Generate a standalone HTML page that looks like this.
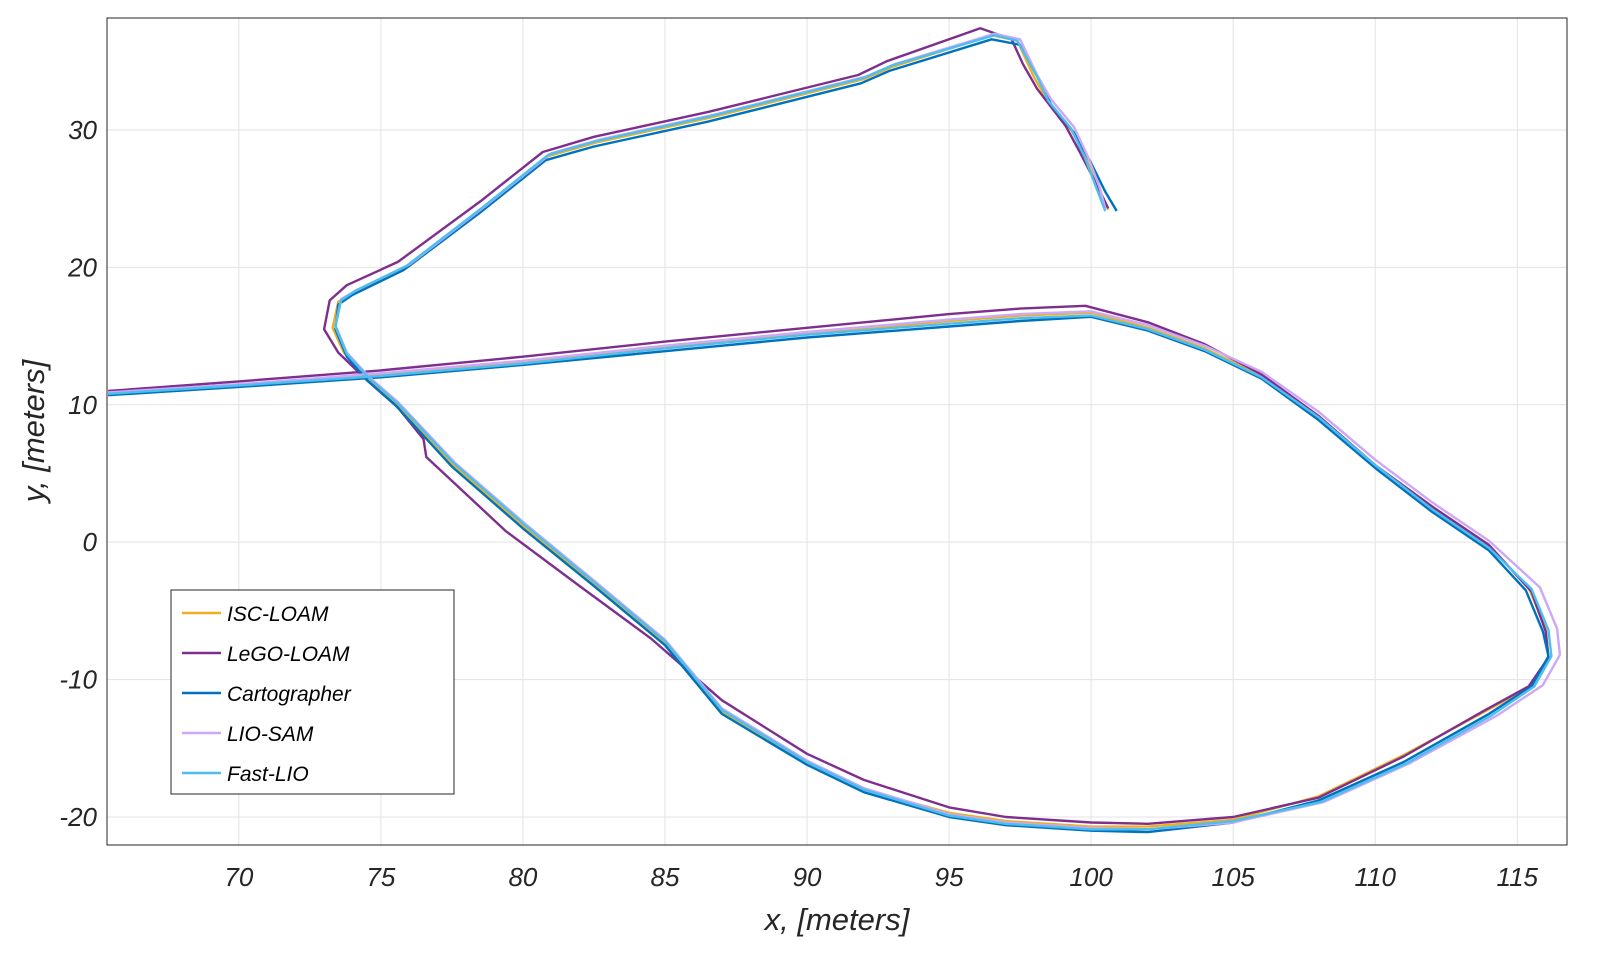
<!DOCTYPE html>
<html><head><meta charset="utf-8"><style>
html,body{margin:0;padding:0;background:#fff;}
svg{display:block;font-family:"Liberation Sans",sans-serif;}
</style></head><body>
<svg id="chart" width="1597" height="958" viewBox="0 0 1597 958" xmlns="http://www.w3.org/2000/svg">
<rect x="0" y="0" width="1597" height="958" fill="#fff"/>
<g id="grid"></g>
<g id="series"></g>
<rect x="107" y="18" width="1460" height="827" fill="none" stroke="#262626" stroke-width="1"/>
<g id="ticks"></g>
<text x="837" y="930" text-anchor="middle" font-size="31" font-style="italic" fill="#262626">x, [meters]</text>
<text transform="translate(44,431) rotate(-90)" text-anchor="middle" font-size="31" font-style="italic" fill="#262626">y, [meters]</text>
<g id="legend">
<rect x="171" y="590" width="283" height="204" fill="#fff" stroke="#262626" stroke-width="1"/>
</g>
</svg>
<script>
const xTicks=[70,75,80,85,90,95,100,105,110,115];
const yTicks=[30,20,10,0,-10,-20];
const seriesNames=["ISC-LOAM","LeGO-LOAM","Cartographer","LIO-SAM","Fast-LIO"];
const seriesColors=["#EDB120","#7E2F8E","#0072BD","#CDA8F8","#4DBEEE"];
const iscLoam=[[65.4,10.8],[70,11.4],[75,12.2],[80,13.1],[85,14.2],[90,15.2],[95,16.1],[97.5,16.5],[100,16.7],[102,15.6],[104,14.1],[106,12.1],[108,9.1],[110,5.6],[112,2.5],[114,-0.3],[115.4,-3.3],[116,-6.3],[116.1,-8.5],[115.4,-10.6],[113.8,-12.4],[111,-15.5],[108,-18.5],[105,-20.2],[102,-20.7],[100,-20.7],[97,-20.3],[95,-19.7],[92,-18],[90,-16],[87,-12.3],[85,-7.3],[82.5,-3],[80,1.2],[77.5,5.7],[75.5,10.2],[74.5,12],[73.7,13.8],[73.3,15.6],[73.5,17.5],[74.1,18.2],[76,20.1],[78.6,24.3],[80.9,28.1],[82.6,29.1],[86.6,30.9],[92,33.7],[93,34.6],[96.5,36.9],[97.4,36.5],[98,33.8],[98.5,32],[99.3,30],[99.9,27.8],[100.3,25.6],[100.6,24.2]];
const legoLoam=[[65.4,11.0],[70,11.7],[75,12.5],[80,13.5],[85,14.6],[90,15.6],[95,16.6],[97.5,17.0],[99.8,17.2],[102,16.0],[104,14.4],[106,12.2],[108,9.2],[110,5.6],[112,2.6],[114,-0.2],[115.5,-3.6],[116,-6.5],[116.1,-8.4],[115.4,-10.5],[113.8,-12.3],[111,-15.6],[108,-18.6],[105,-20],[102,-20.5],[100,-20.4],[97,-20],[95,-19.3],[92,-17.3],[90,-15.4],[87,-11.5],[84.5,-7],[82,-3.2],[79.4,0.8],[76.6,6.2],[76.5,7.5],[75.6,9.8],[74.5,11.8],[73.5,13.8],[73,15.5],[73.2,17.6],[73.8,18.7],[75.6,20.4],[78.5,24.8],[80.7,28.4],[82.5,29.5],[86.5,31.3],[91.8,34],[92.8,35],[96.1,37.4],[97.2,36.6],[97.6,34.8],[98.1,33],[99.1,30.3],[99.6,28.4],[100.2,26],[100.6,24.3]];
const cartographer=[[65.4,10.7],[70,11.3],[75,12.0],[80,12.9],[85,13.9],[90,14.9],[95,15.7],[97.5,16.1],[100,16.4],[102,15.4],[104,13.9],[106,11.9],[108,8.9],[110,5.4],[112,2.2],[114,-0.6],[115.3,-3.5],[115.9,-6.5],[116.1,-8.3],[115.5,-10.5],[114,-12.5],[111,-16],[108,-18.8],[105,-20.4],[102,-21.1],[100,-21],[97,-20.6],[95,-20],[92,-18.2],[90,-16.2],[87,-12.5],[85,-7.5],[82.5,-3.2],[80,1],[77.5,5.5],[75.5,10],[74.5,11.8],[73.8,13.5],[73.4,15.5],[73.5,17.3],[74,18],[75.8,19.8],[78.5,24],[80.8,27.8],[82.5,28.8],[86.5,30.6],[91.9,33.4],[92.9,34.3],[96.5,36.6],[97.5,36.2],[98.2,33.5],[98.6,31.8],[99.4,29.8],[100,27.6],[100.5,25.5],[100.9,24.1]];
const lioSam=[[65.4,10.9],[70,11.5],[75,12.3],[80,13.2],[85,14.3],[90,15.3],[95,16.2],[97.5,16.6],[100,16.8],[102,15.8],[104,14.3],[106,12.4],[108,9.5],[110,6.0],[112,2.9],[114,0.1],[115.8,-3.3],[116.4,-6.3],[116.5,-8.2],[115.9,-10.4],[114.3,-12.6],[111.2,-16.1],[108.2,-18.9],[105,-20.4],[102,-20.9],[100,-20.8],[97,-20.4],[95,-19.8],[92,-17.9],[90,-15.9],[87,-12.1],[85,-7.1],[82.5,-2.8],[80.1,1.3],[77.6,5.8],[75.6,10.2],[74.6,12],[73.8,13.8],[73.4,15.8],[73.6,17.7],[74.2,18.4],[76,20.2],[78.7,24.5],[81,28.3],[82.7,29.3],[86.7,31.1],[92.1,33.9],[93.1,34.8],[96.6,37],[97.5,36.6],[98.1,34],[98.6,32.2],[99.4,30.2],[99.9,28],[100.3,25.8],[100.5,24.3]];
const fastLio=[[65.4,10.8],[70,11.4],[75,12.1],[80,13.0],[85,14.1],[90,15.1],[95,15.9],[97.5,16.3],[100,16.5],[102,15.5],[104,14.0],[106,12.0],[108,9.1],[110,5.6],[112,2.4],[114,-0.4],[115.5,-3.4],[116.1,-6.4],[116.2,-8.3],[115.6,-10.5],[114.1,-12.6],[111.1,-16.1],[108.1,-18.9],[105,-20.3],[102,-20.9],[100,-20.9],[97,-20.5],[95,-19.9],[92,-18],[90,-16],[87,-12.2],[85,-7.2],[82.5,-2.9],[80.1,1.2],[77.6,5.7],[75.6,10.1],[74.6,11.9],[73.8,13.7],[73.4,15.7],[73.6,17.6],[74.1,18.3],[75.9,20.1],[78.6,24.4],[80.9,28.2],[82.6,29.2],[86.6,31],[92,33.8],[93,34.7],[96.6,36.9],[97.4,36.5],[98.1,33.9],[98.5,32.1],[99.3,30.1],[99.8,27.9],[100.2,25.7],[100.5,24.1]];
const allSeries=[iscLoam,legoLoam,cartographer,lioSam,fastLio];
const L=107,R=1567,T=18,B=845,XMIN=65.36,XMAX=116.75,YMIN=-22.04,YMAX=38.15;
function sx(v){return L+(v-XMIN)/(XMAX-XMIN)*(R-L);}
function sy(v){return B-(v-YMIN)/(YMAX-YMIN)*(B-T);}
const NS="http://www.w3.org/2000/svg";
function mk(tag,attrs,parent){const e=document.createElementNS(NS,tag);for(const k in attrs)e.setAttribute(k,attrs[k]);parent.appendChild(e);return e;}
const grid=document.getElementById('grid'),ticks=document.getElementById('ticks');
xTicks.forEach(v=>{
  const l=mk('line',{x1:sx(v),x2:sx(v),y1:T,y2:B,stroke:'#e3e3e3','stroke-width':1},grid);
  
  
  const t=mk('text',{x:sx(v),y:886,'text-anchor':'middle','font-size':26,'font-style':'italic',fill:'#262626'},ticks);
  t.textContent=v;
  
  
});
yTicks.forEach(v=>{
  const l=mk('line',{x1:L,x2:R,y1:sy(v),y2:sy(v),stroke:'#e3e3e3','stroke-width':1},grid);
  
  
  const t=mk('text',{x:97,y:sy(v)+9,'text-anchor':'end','font-size':26,'font-style':'italic',fill:'#262626'},ticks);
  t.textContent=v;
  
  
});
const sg=document.getElementById('series'),lg=document.getElementById('legend');
allSeries.forEach((pts,i)=>{
  const d=pts.map((p,j)=>(j?'L':'M')+sx(p[0]).toFixed(1)+' '+sy(p[1]).toFixed(1)).join(' ');
  const p=mk('path',{d:d,fill:'none',stroke:seriesColors[i],'stroke-width':2.4,'stroke-linejoin':'round'},sg);
  
  
  const y=613+40*i;
  const ll=mk('line',{x1:182,x2:221,y1:y,y2:y,stroke:seriesColors[i],'stroke-width':2.4},lg);
  
  
  const t=mk('text',{x:227,y:y+8,'font-size':21,'font-style':'italic',fill:'#000'},lg);
  t.textContent=seriesNames[i];
  
  
});
</script>
</body></html>
